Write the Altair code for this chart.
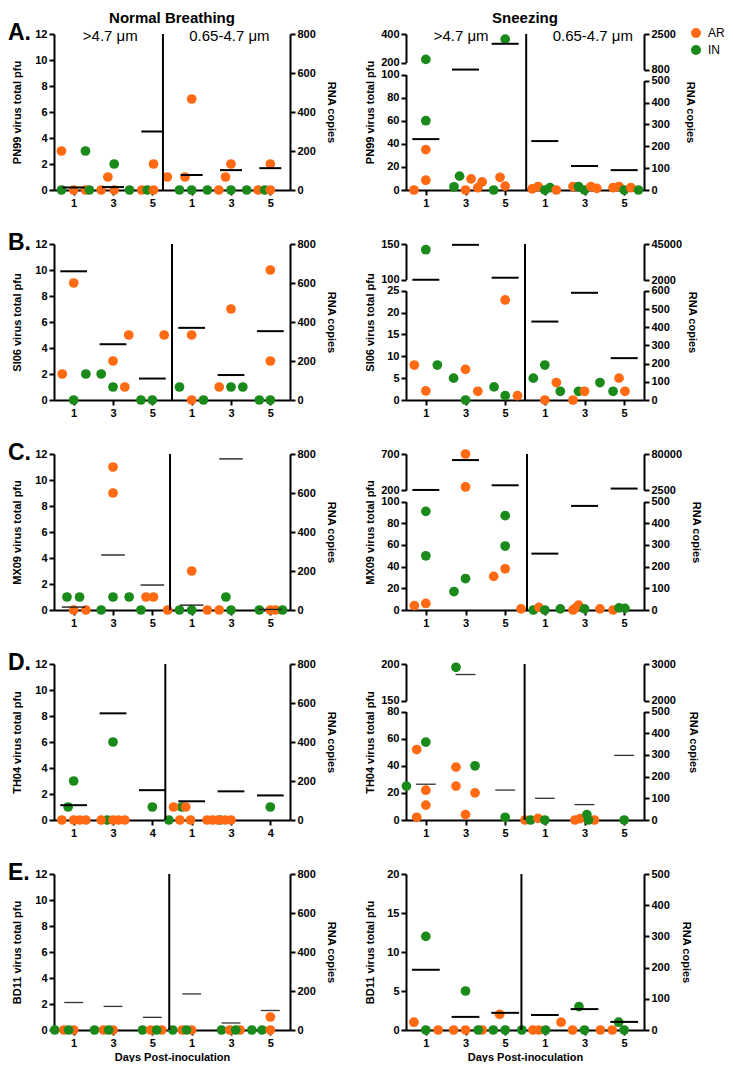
import altair as alt
import pandas as pd

FONT = "Liberation Sans"
ORANGE = "#FF6A13"
GREEN = "#1A8A1A"
H = 156
W_LEFT = 236
W_RIGHT = 238
ROW_SPACING = 54
COL_SPACING = 116

CONDITIONS = ["Normal Breathing", "Sneezing"]
LETTERS = ["A.", "B.", "C.", "D.", "E."]
VIRUSES = ["PN99", "SI06", "MX09", "TH04", "BD11"]
GROUP_CENTERS = [0.5, 1.5, 2.5, 3.5, 4.5, 5.5]
DAYS = ["1", "3", "5", "1", "3", "5"]
DAYS_TH04_NB = ["1", "3", "4", "1", "3", "4"]
SIZE_BINS = [">4.7 \u03bcm", "0.65-4.7 \u03bcm"]
SIZE_BIN_X_NB = [1.43, 4.46]
SIZE_BIN_X_SN = [1.39, 4.71]
TYPES = ["AR", "IN"]

# points: (group index, offset within group, total pfu, transmission type)
A_NB_PTS = [
    (0, -0.31, 3, "AR"), (0, -0.31, 0, "IN"), (0, 0.0, 0, "AR"), (0, 0.3, 0, "AR"), (0, 0.3, 3, "IN"), (0, 0.4, 0, "IN"),
    (1, -0.3, 0, "AR"), (1, -0.13, 1, "AR"), (1, 0.03, 2, "IN"), (1, 0.03, 0, "AR"), (1, 0.42, 0, "IN"),
    (2, -0.27, 0, "AR"), (2, -0.13, 0, "IN"), (2, 0.03, 2, "AR"), (2, 0.03, 0, "AR"),
    (3, -0.62, 1, "AR"), (3, -0.31, 0, "IN"), (3, -0.17, 1, "AR"), (3, 0.0, 0, "IN"), (3, 0.0, 7, "AR"), (3, 0.4, 0, "IN"),
    (4, -0.31, 0, "AR"), (4, -0.14, 1, "AR"), (4, 0.0, 0, "IN"), (4, 0.0, 2, "AR"), (4, 0.4, 0, "IN"),
    (5, -0.31, 0, "AR"), (5, -0.14, 0, "IN"), (5, 0.0, 2, "AR"), (5, 0.0, 0, "AR"),
]
A_NB_RNA = [13, 15, 300, 77, 102, 112]

A_SN_PTS = [
    (0, 0.0, 222, "IN"), (0, 0.0, 60, "IN"), (0, 0.0, 35, "AR"), (0, 0.0, 8.5, "AR"), (0, -0.3, 0, "AR"),
    (1, -0.29, 2.8, "IN"), (1, -0.15, 12, "IN"), (1, 0.0, 0, "AR"), (1, 0.14, 9.6, "AR"), (1, 0.31, 2, "AR"), (1, 0.42, 7, "AR"),
    (2, -0.29, 0, "IN"), (2, -0.13, 11, "AR"), (2, 0.0, 3.4, "AR"), (2, 0.0, 364, "IN"),
    (3, -0.32, 1, "AR"), (3, -0.17, 3, "AR"), (3, 0.0, 0, "IN"), (3, 0.13, 2, "IN"), (3, 0.29, 0, "AR"),
    (4, -0.29, 3, "AR"), (4, -0.15, 3, "IN"), (4, 0.0, 0, "IN"), (4, 0.16, 3, "AR"), (4, 0.31, 1.4, "AR"),
    (5, -0.28, 2, "AR"), (5, -0.13, 3, "AR"), (5, 0.0, 0, "IN"), (5, 0.17, 2, "AR"), (5, 0.36, 0, "IN"),
]
A_SN_RNA = [233, 815, 2036, 224, 110, 91]

B_NB_PTS = [
    (0, -0.29, 2, "AR"), (0, 0.0, 0, "IN"), (0, 0.0, 9, "AR"), (0, 0.31, 2, "IN"),
    (1, -0.3, 2, "IN"), (1, 0.0, 1, "IN"), (1, 0.0, 3, "AR"), (1, 0.3, 1, "AR"), (1, 0.4, 5, "AR"),
    (2, -0.29, 0, "IN"), (2, 0.0, 0, "IN"), (2, 0.3, 5, "AR"),
    (3, -0.31, 1, "IN"), (3, 0.0, 5, "AR"), (3, 0.0, 0, "AR"), (3, 0.3, 0, "IN"),
    (4, -0.3, 1, "AR"), (4, 0.0, 1, "IN"), (4, 0.0, 7, "AR"), (4, 0.3, 1, "IN"),
    (5, -0.28, 0, "IN"), (5, 0.0, 0, "IN"), (5, 0.0, 3, "AR"), (5, 0.0, 10, "AR"),
]
B_NB_RNA = [660, 286, 110, 370, 128, 353]

B_SN_PTS = [
    (0, -0.29, 8, "AR"), (0, 0.0, 2.1, "AR"), (0, 0.0, 142, "IN"), (0, 0.29, 8, "IN"),
    (1, -0.3, 5, "IN"), (1, 0.0, 0, "IN"), (1, 0.0, 7, "AR"), (1, 0.31, 2, "AR"),
    (2, -0.28, 3, "IN"), (2, 0.0, 1, "IN"), (2, 0.0, 22.9, "AR"), (2, 0.31, 1, "AR"),
    (3, -0.29, 5, "IN"), (3, 0.0, 8, "IN"), (3, 0.0, 0, "AR"), (3, 0.29, 4, "AR"), (3, 0.39, 2, "IN"),
    (4, -0.29, 0, "AR"), (4, -0.15, 2, "IN"), (4, 0.0, 2, "AR"), (4, 0.39, 4, "IN"),
    (5, -0.28, 2, "IN"), (5, -0.13, 5, "AR"), (5, 0.02, 2, "AR"),
]
B_SN_RNA = [2700, 44000, 5100, 431, 589, 230]

C_NB_PTS = [
    (0, -0.17, 1, "IN"), (0, 0.15, 1, "IN"), (0, 0.0, 0, "AR"), (0, 0.31, 0, "AR"),
    (1, -0.3, 0, "IN"), (1, 0.0, 1, "IN"), (1, 0.0, 9, "AR"), (1, 0.0, 11, "AR"), (1, 0.41, 1, "IN"),
    (2, -0.29, 0, "IN"), (2, -0.16, 1, "AR"), (2, 0.03, 1, "AR"), (2, 0.39, 0, "AR"),
    (3, -0.31, 0, "IN"), (3, 0.0, 0, "IN"), (3, 0.0, 3, "AR"), (3, 0.4, 0, "AR"),
    (4, -0.3, 0, "AR"), (4, -0.13, 1, "IN"), (4, 0.0, 0, "IN"),
    (5, -0.28, 0, "IN"), (5, 0.0, 0, "AR"), (5, 0.13, 0, "AR"), (5, 0.31, 0, "IN"),
]
C_NB_RNA = [15, 282, 128, 25, 775, 3]

C_SN_PTS = [
    (0, -0.29, 4, "AR"), (0, 0.0, 6, "AR"), (0, 0.0, 91, "IN"), (0, 0.0, 50, "IN"),
    (1, -0.29, 17, "IN"), (1, 0.0, 29, "IN"), (1, 0.0, 700, "AR"), (1, 0.0, 245, "AR"),
    (2, -0.29, 31, "AR"), (2, 0.0, 38, "AR"), (2, 0.0, 59, "IN"), (2, 0.0, 87, "IN"), (2, 0.4, 1, "AR"),
    (3, -0.29, 0, "IN"), (3, -0.15, 2.4, "AR"), (3, 0.0, 0, "IN"), (3, 0.39, 1, "IN"),
    (4, -0.29, 0, "AR"), (4, -0.24, 1.5, "AR"), (4, -0.15, 4.5, "AR"), (4, 0.0, 1, "IN"), (4, 0.39, 1, "AR"),
    (5, -0.28, 0, "AR"), (5, -0.13, 2, "IN"), (5, 0.02, 1.5, "IN"),
]
C_SN_RNA = [3000, 67000, 13000, 260, 480, 6000]

D_NB_PTS = [
    (0, -0.3, 0, "AR"), (0, -0.14, 1, "IN"), (0, 0.0, 3, "IN"), (0, 0.0, 0, "AR"), (0, 0.15, 0, "AR"), (0, 0.31, 0, "AR"),
    (1, -0.15, 0, "IN"), (1, -0.3, 0, "AR"), (1, 0.0, 0, "AR"), (1, 0.0, 6, "IN"), (1, 0.14, 0, "AR"), (1, 0.3, 0, "AR"),
    (2, 0.0, 1, "IN"),
    (3, -0.58, 0, "IN"), (3, -0.25, 1, "IN"), (3, -0.46, 1, "AR"), (3, -0.3, 0, "AR"), (3, -0.15, 1, "AR"), (3, -0.03, 0, "AR"),
    (4, -0.28, 0, "IN"), (4, -0.61, 0, "AR"), (4, -0.47, 0, "AR"), (4, -0.32, 0, "AR"), (4, -0.15, 0, "AR"), (4, 0.0, 0, "AR"),
    (5, 0.0, 1, "IN"),
]
D_NB_RNA = [76, 547, 153, 96, 147, 126]

D_SN_PTS = [
    (0, -0.49, 25, "IN"), (0, -0.23, 2, "AR"), (0, -0.23, 52, "AR"), (0, 0.0, 57.5, "IN"), (0, 0.0, 22, "AR"), (0, 0.0, 11, "AR"),
    (1, -0.24, 195.5, "IN"), (1, -0.24, 39, "AR"), (1, -0.24, 25, "AR"), (1, 0.0, 4, "AR"), (1, 0.24, 20, "AR"), (1, 0.24, 40, "IN"),
    (2, 0.0, 2, "IN"),
    (3, -0.5, 0, "AR"), (3, -0.36, 0, "IN"), (3, -0.17, 1.2, "AR"), (3, 0.0, 0, "IN"),
    (4, -0.24, 0, "AR"), (4, -0.11, 1, "AR"), (4, 0.25, 0, "AR"), (4, 0.06, 4, "IN"), (4, 0.1, 0, "IN"),
    (5, 0.0, 0, "IN"),
]
D_SN_RNA = [165, 2714, 138, 100, 71, 298]

E_NB_PTS = [
    (0, -0.48, 0, "IN"), (0, -0.25, 0, "AR"), (0, 0.0, 0, "AR"), (0, -0.13, 0, "IN"),
    (1, -0.47, 0, "IN"), (1, -0.24, 0, "AR"), (1, 0.0, 0, "AR"), (1, -0.11, 0, "IN"),
    (2, -0.25, 0, "IN"), (2, -0.04, 0, "AR"), (2, 0.24, 0, "AR"), (2, 0.11, 0, "IN"),
    (3, -0.48, 0, "IN"), (3, -0.24, 0, "AR"), (3, 0.0, 0, "AR"), (3, -0.13, 0, "IN"),
    (4, -0.24, 0, "IN"), (4, -0.03, 0, "AR"), (4, 0.23, 0, "AR"), (4, 0.12, 0, "IN"),
    (5, -0.47, 0, "IN"), (5, -0.21, 0, "IN"), (5, 0.0, 1, "AR"), (5, 0.0, 0, "AR"),
]
E_NB_RNA = [141, 121, 65, 185, 36, 100]

E_SN_PTS = [
    (0, -0.3, 1, "AR"), (0, 0.0, 12, "IN"), (0, 0.0, 0, "IN"), (0, 0.31, 0, "AR"),
    (1, -0.3, 0, "AR"), (1, 0.0, 5, "IN"), (1, 0.0, 0, "AR"), (1, 0.42, 0, "AR"), (1, 0.32, 0, "IN"),
    (2, -0.3, 0, "IN"), (2, -0.14, 2, "AR"), (2, 0.0, 0, "IN"), (2, 0.42, 0, "IN"),
    (3, -0.3, 0, "AR"), (3, -0.15, 0, "AR"), (3, 0.02, 0, "IN"), (3, 0.41, 1, "AR"),
    (4, -0.3, 0, "AR"), (4, -0.14, 3, "IN"), (4, 0.0, 0, "IN"), (4, 0.4, 0, "AR"),
    (5, -0.3, 0, "AR"), (5, -0.14, 1, "IN"), (5, 0.0, 0, "IN"),
]
E_SN_RNA = [193, 42, 55, 48, 67, 26]

DIVIDERS = [[2.77, 3.03], [3.0, 3.0], [2.95, 3.05], [2.83, 2.99], [2.93, 2.91]]

PANELS = [
    [dict(pts=A_NB_PTS, rna=A_NB_RNA, days=DAYS, left=(12, 2), right=(800, 200), hw=0.28, lw=2, lc="black", rtx=40),
     dict(pts=A_SN_PTS, rna=A_SN_RNA, days=DAYS, hw=0.34, lw=2, lc="black", rtx=45,
          broken=dict(ll=(100, 20), lu=(200, 400), rl=(500, 100), ru=(800, 2500), f=(0.183, 0.26, 0.23, 0.30)))],
    [dict(pts=B_NB_PTS, rna=B_NB_RNA, days=DAYS, left=(12, 2), right=(800, 200), hw=0.34, lw=2, lc="black", rtx=40),
     dict(pts=B_SN_PTS, rna=B_SN_RNA, days=DAYS, hw=0.34, lw=2, lc="black", rtx=47,
          broken=dict(ll=(25, 5), lu=(100, 150), rl=(600, 100), ru=(2000, 45000), f=(0.228, 0.30, 0.233, 0.30)))],
    [dict(pts=C_NB_PTS, rna=C_NB_RNA, days=DAYS, left=(12, 2), right=(800, 200), hw=0.3, lw=1.4, lc="#222", rtx=40),
     dict(pts=C_SN_PTS, rna=C_SN_RNA, days=DAYS, hw=0.34, lw=2, lc="black", rtx=51,
          broken=dict(ll=(100, 20), lu=(200, 700), rl=(500, 100), ru=(2500, 80000), f=(0.232, 0.305, 0.232, 0.305)))],
    [dict(pts=D_NB_PTS, rna=D_NB_RNA, days=DAYS_TH04_NB, left=(12, 2), right=(800, 200), hw=0.34, lw=2, lc="black", rtx=40),
     dict(pts=D_SN_PTS, rna=D_SN_RNA, days=DAYS, hw=0.25, lw=1.3, lc="#333", rtx=48,
          broken=dict(ll=(80, 20), lu=(150, 200), rl=(500, 100), ru=(2000, 3000), f=(0.236, 0.305, 0.236, 0.305)))],
    [dict(pts=E_NB_PTS, rna=E_NB_RNA, days=DAYS, left=(12, 2), right=(800, 200), hw=0.24, lw=1.3, lc="#333", rtx=40),
     dict(pts=E_SN_PTS, rna=E_SN_RNA, days=DAYS, left=(20, 5), right=(500, 100), hw=0.35, lw=2, lc="black", rtx=41)],
]

LEGEND = alt.Legend(title=None, orient="none", legendX=636, legendY=-7, symbolType="circle",
                    symbolSize=100, labelFont=FONT, labelFontSize=12, labelColor="black",
                    rowPadding=5, labelOffset=6, symbolStrokeWidth=0)
COLOR = alt.Color("type:N", scale=alt.Scale(domain=TYPES, range=[ORANGE, GREEN]), legend=LEGEND)


def y_axis(orient, values, title=None, tx=0):
    if title:
        return alt.Axis(orient=orient, values=values, format="d", title=title, titleX=tx,
                        titleY=H / 2, titleBaseline="middle",
                        titleAngle=270 if orient == "left" else 90)
    return alt.Axis(orient=orient, values=values, format="d", title=None)


def y_enc(field, domain, axis, rng=None):
    sk = dict(domain=list(domain), nice=False, zero=False)
    if rng is not None:
        sk["range"] = list(rng)
    return alt.Y(field, type="quantitative", scale=alt.Scale(**sk), axis=axis)


def make_panel(spec, row, col, W):
    virus = VIRUSES[row]
    pts = pd.DataFrame(spec["pts"], columns=["g", "dx", "pfu", "type"])
    pts["x"] = [GROUP_CENTERS[g] + d for g, d in zip(pts["g"], pts["dx"])]
    lines = pd.DataFrame({"g": list(range(6)), "rna": spec["rna"]})
    lines["x"] = [GROUP_CENTERS[g] - spec["hw"] for g in lines["g"]]
    lines["x2"] = [GROUP_CENTERS[g] + spec["hw"] for g in lines["g"]]

    expr = "[" + ",".join("'%s'" % d for d in spec["days"]) + "][floor(datum.value)]"
    xtitle = "Days Post-inoculation" if row == 4 else None
    xaxis = alt.Axis(values=GROUP_CENTERS, labelExpr=expr, title=xtitle, titlePadding=3)
    xscale = alt.Scale(domain=[0, 6], nice=False, zero=False)

    def X(f):
        return alt.X(f, type="quantitative", scale=xscale, axis=xaxis)

    ltitle = "%s virus total pfu" % virus
    ltx = -37 if col == 0 else -36
    rtx = spec["rtx"]
    layers = []
    circ = dict(size=95, opacity=1, strokeWidth=0)
    rule = dict(strokeWidth=spec["lw"], color=spec["lc"])

    if "broken" in spec:
        b = spec["broken"]
        f = b["f"]
        lmax, lstep = b["ll"]
        rmax, rstep = b["rl"]
        lo = pts[pts["pfu"] <= lmax]
        hi = pts[pts["pfu"] > lmax]
        layers.append(alt.Chart(lo).mark_circle(**circ).encode(
            x=X("x"), color=COLOR,
            y=y_enc("pfu", (0, lmax), y_axis("left", list(range(0, lmax + 1, lstep)), ltitle, ltx), (H, f[1] * H))))
        layers.append(alt.Chart(hi).mark_circle(**circ).encode(
            x=X("x"), color=COLOR,
            y=y_enc("pfu", b["lu"], y_axis("left", list(b["lu"])), (f[0] * H, 0))))
        llo = lines[lines["rna"] <= rmax]
        lhi = lines[lines["rna"] > rmax]
        layers.append(alt.Chart(llo).mark_rule(**rule).encode(
            x=X("x"), x2="x2",
            y=y_enc("rna", (0, rmax), y_axis("right", list(range(0, rmax + 1, rstep)), "RNA copies", rtx), (H, f[3] * H))))
        layers.append(alt.Chart(lhi).mark_rule(**rule).encode(
            x=X("x"), x2="x2",
            y=y_enc("rna", b["ru"], y_axis("right", list(b["ru"])), (f[2] * H, 0))))
    else:
        lmax, lstep = spec["left"]
        rmax, rstep = spec["right"]
        layers.append(alt.Chart(pts).mark_circle(**circ).encode(
            x=X("x"), color=COLOR,
            y=y_enc("pfu", (0, lmax), y_axis("left", list(range(0, lmax + 1, lstep)), ltitle, ltx))))
        layers.append(alt.Chart(lines).mark_rule(**rule).encode(
            x=X("x"), x2="x2",
            y=y_enc("rna", (0, rmax), y_axis("right", list(range(0, rmax + 1, rstep)), "RNA copies", rtx))))

    div = pd.DataFrame({"div": [DIVIDERS[row][col]]})
    layers.append(alt.Chart(div).mark_rule(strokeWidth=2, color="black").encode(
        x=X("div"), y=alt.value(0), y2=alt.value(H)))

    if row == 0:
        sb = pd.DataFrame({"t": SIZE_BINS, "tx": SIZE_BIN_X_NB if col == 0 else SIZE_BIN_X_SN})
        layers.append(alt.Chart(sb).mark_text(font=FONT, fontSize=15, color="black", align="center",
                                              baseline="alphabetic").encode(
            x=X("tx"), y=alt.value(7), text="t:N"))
        ct = pd.DataFrame({"t": [CONDITIONS[col]]})
        layers.append(alt.Chart(ct).mark_text(font=FONT, fontSize=15, fontWeight="bold", color="black",
                                              align="center", baseline="alphabetic").encode(
            x=alt.value(W / 2), y=alt.value(-11), text="t:N"))
    if col == 0:
        lt = pd.DataFrame({"t": [LETTERS[row]]})
        layers.append(alt.Chart(lt).mark_text(font=FONT, fontSize=23, fontWeight="bold", color="black",
                                              align="left", baseline="alphabetic").encode(
            x=alt.value(-46), y=alt.value(6), text="t:N"))

    return alt.layer(*layers).resolve_scale(y="independent").properties(width=W, height=H)


panels = []
for r in range(5):
    panels.append(make_panel(PANELS[r][0], r, 0, W_LEFT))
    panels.append(make_panel(PANELS[r][1], r, 1, W_RIGHT))

chart = alt.concat(*panels, columns=2, spacing={"row": ROW_SPACING, "column": COL_SPACING},
                   bounds="flush").properties(
    padding={"top": 3, "left": 0, "right": 0, "bottom": 0}).configure_axis(
    domainColor="black", domainWidth=2, tickColor="black", tickWidth=2, tickSize=5,
    labelFont=FONT, labelFontWeight="bold", labelFontSize=11, labelColor="black", labelPadding=2,
    labelFlush=False, titleFont=FONT, titleFontWeight="bold", titleFontSize=11, titleColor="black",
    grid=False,
).configure_view(strokeOpacity=0)

chart.save("out.html", embed_options={"renderer": "svg", "actions": False})
